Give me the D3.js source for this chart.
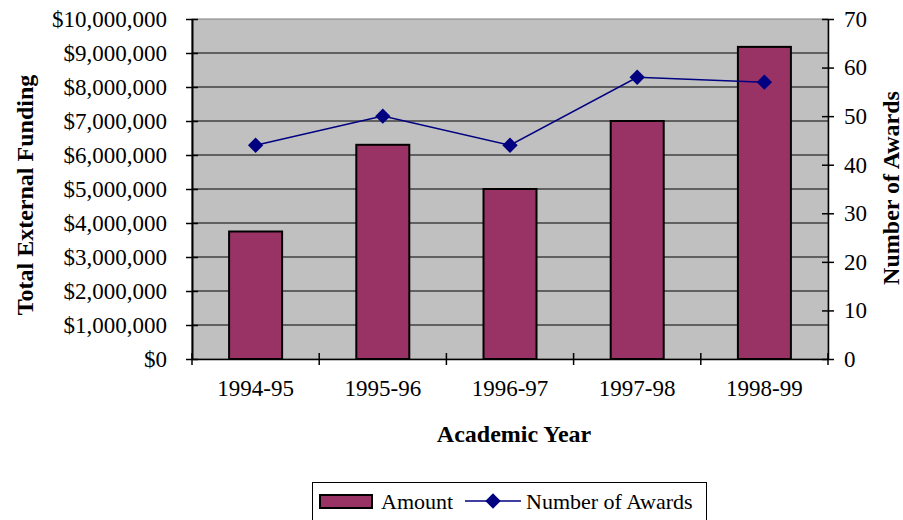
<!DOCTYPE html>
<html><head><meta charset="utf-8">
<script src="https://cdn.jsdelivr.net/npm/d3@7"></script>
<style>body{margin:0;background:#fff}svg{display:block}svg text{font-family:"Liberation Serif","Times New Roman",serif !important;fill:#000}</style>
</head><body>
<svg id="c" width="903" height="520"></svg>
<script>
const years = ["1994-95","1995-96","1996-97","1997-98","1998-99"];
const amounts = [3750000, 6300000, 5000000, 7000000, 9180000];
const awards = [44, 50, 44, 58, 57];
const leftTicks = [0,1000000,2000000,3000000,4000000,5000000,6000000,7000000,8000000,9000000,10000000];
const rightTicks = [0,10,20,30,40,50,60,70];

const svg = d3.select("#c");
const L = 192, R = 828, T = 19, B = 359;
const x = d3.scaleBand().domain(years).range([L, R]).paddingInner(0).paddingOuter(0);
const yL = d3.scaleLinear().domain([0, 10000000]).range([B, T]);
const yR = d3.scaleLinear().domain([0, 70]).range([B, T]);
const fmt = d => "$" + d3.format(",")(d);

// plot background
svg.append("rect").attr("x", L).attr("y", T).attr("width", R - L).attr("height", B - T)
  .attr("fill", "#c0c0c0").attr("stroke", "#808080").attr("stroke-width", 1);

// gridlines
svg.append("g").selectAll("line").data(leftTicks.filter(d => d > 0 && d < 10000000)).join("line")
  .attr("x1", L).attr("x2", R).attr("y1", d => yL(d)).attr("y2", d => yL(d))
  .attr("stroke", "#000").attr("stroke-width", 1);

// bars
const bw = 53;
svg.append("g").selectAll("rect").data(years).join("rect")
  .attr("x", d => x(d) + x.bandwidth() / 2 - bw / 2)
  .attr("width", bw)
  .attr("y", (d, i) => yL(amounts[i]))
  .attr("height", (d, i) => B - yL(amounts[i]))
  .attr("fill", "#993366").attr("stroke", "#000").attr("stroke-width", 2);

// left axis
const gl = svg.append("g").attr("transform", `translate(${L},0)`)
  .call(d3.axisLeft(yL).tickValues(leftTicks).tickFormat(fmt).tickSizeInner(6).tickSizeOuter(0).tickPadding(19));
gl.attr("font-family", null).attr("font-size", null);
gl.select(".domain").attr("stroke", "#000").attr("stroke-width", 2);
gl.selectAll(".tick line").attr("stroke", "#000").attr("stroke-width", 1.5).attr("x2", -6).attr("x1", 6);
gl.selectAll(".tick text").attr("font-size", 23);

// right axis
const gr = svg.append("g").attr("transform", `translate(${R},0)`)
  .call(d3.axisRight(yR).tickValues(rightTicks).tickSizeInner(6).tickSizeOuter(0).tickPadding(10));
gr.attr("font-family", null).attr("font-size", null);
gr.select(".domain").attr("stroke", "#000").attr("stroke-width", 1.5);
gr.selectAll(".tick line").attr("stroke", "#000").attr("stroke-width", 1.5).attr("x1", -6).attr("x2", 6);
gr.selectAll(".tick text").attr("font-size", 23);

// bottom axis
const gb = svg.append("g").attr("transform", `translate(0,${B})`)
  .call(d3.axisBottom(x).tickSize(0).tickPadding(21));
gb.attr("font-family", null).attr("font-size", null);
gb.select(".domain").attr("stroke", "#000").attr("stroke-width", 1.5);
gb.selectAll(".tick text").attr("font-size", 23);
const bounds = years.map(d => x(d)).concat([R]);
gb.append("g").selectAll("line").data(bounds).join("line")
  .attr("x1", d => d).attr("x2", d => d).attr("y1", -6).attr("y2", 6)
  .attr("stroke", "#000").attr("stroke-width", 1.5);

// line series
const cx = d => x(d) + x.bandwidth() / 2;
const line = d3.line().x((d, i) => cx(years[i])).y(d => yR(d));
svg.append("path").datum(awards).attr("d", line).attr("fill", "none")
  .attr("stroke", "#000080").attr("stroke-width", 1.5);
const diamond = d3.symbol().type(d3.symbolDiamond2).size(150);
svg.append("g").selectAll("path").data(awards).join("path")
  .attr("d", diamond)
  .attr("transform", (d, i) => `translate(${cx(years[i])},${yR(d)})`)
  .attr("fill", "#000080");

// axis titles
svg.append("text").attr("x", 514).attr("y", 442).attr("text-anchor", "middle")
  .attr("font-size", 24).attr("font-weight", "bold").text("Academic Year");
svg.append("text").attr("transform", `translate(33,195) rotate(-90)`).attr("text-anchor", "middle")
  .attr("font-size", 24).attr("font-weight", "bold").text("Total External Funding");
svg.append("text").attr("transform", `translate(899,188) rotate(-90)`).attr("text-anchor", "middle")
  .attr("font-size", 24).attr("font-weight", "bold").text("Number of Awards");

// legend
const lg = svg.append("g");
lg.append("rect").attr("x", 312.5).attr("y", 482.5).attr("width", 394).attr("height", 45)
  .attr("fill", "#fff").attr("stroke", "#000").attr("stroke-width", 1);
lg.append("rect").attr("x", 320).attr("y", 495).attr("width", 52).attr("height", 13)
  .attr("fill", "#993366").attr("stroke", "#000").attr("stroke-width", 2);
lg.append("text").attr("x", 381).attr("y", 509).attr("font-size", 22).text("Amount");
lg.append("line").attr("x1", 465).attr("x2", 521).attr("y1", 501).attr("y2", 501)
  .attr("stroke", "#000080").attr("stroke-width", 1.5);
lg.append("path").attr("d", diamond).attr("transform", "translate(493,501)").attr("fill", "#000080");
lg.append("text").attr("x", 526).attr("y", 509).attr("font-size", 22).text("Number of Awards");
</script>
</body></html>
